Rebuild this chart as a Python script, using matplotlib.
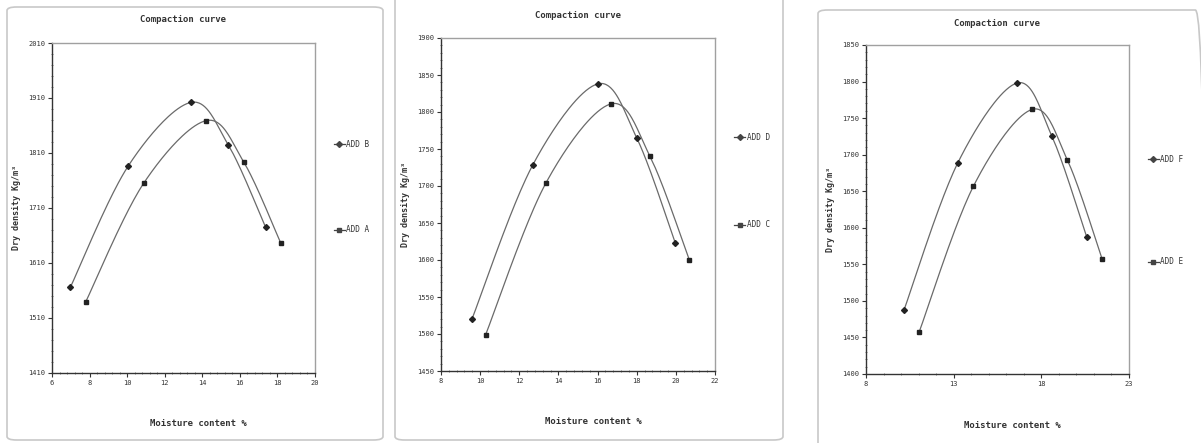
import numpy as np
import matplotlib
matplotlib.use('Agg')
import matplotlib.pyplot as plt
from matplotlib.patches import FancyBboxPatch
from matplotlib.ticker import FixedLocator, AutoMinorLocator

# Datos de las tres curvas de compactacion (humedad %, densidad seca kg/m3)
x_add_b = [6.98, 10.05, 13.39, 15.38, 17.37]
y_add_b = [1566, 1786, 1902, 1825, 1675]
x_add_a = [7.79, 10.88, 14.22, 16.20, 18.18]
y_add_a = [1539, 1755, 1869, 1794, 1646]

x_add_d = [9.58, 12.68, 16.01, 18.00, 19.97]
y_add_d = [1520, 1728, 1838, 1765, 1623]
x_add_c = [10.28, 13.36, 16.69, 18.68, 20.69]
y_add_c = [1499, 1704, 1811, 1740, 1600]

x_add_f = [10.16, 13.24, 16.61, 18.59, 20.58]
y_add_f = [1487, 1689, 1798, 1726, 1588]
x_add_e = [11.04, 14.13, 17.49, 19.48, 21.47]
y_add_e = [1458, 1657, 1762, 1693, 1557]

# Marcas de los ejes
xticks_1 = [6, 8, 10, 12, 14, 16, 18, 20]
yticks_1 = [1410, 1510, 1610, 1710, 1810, 1910, 2010]
xticks_2 = [8, 10, 12, 14, 16, 18, 20, 22]
yticks_2 = [1450, 1500, 1550, 1600, 1650, 1700, 1750, 1800, 1850, 1900]
xticks_3 = [8, 13, 18, 23]
yticks_3 = [1400, 1450, 1500, 1550, 1600, 1650, 1700, 1750, 1800, 1850]

W, H = 1201, 443
FONT = 'DejaVu Sans Mono'


def smooth(xs, ys, n=40):
    # curva suavizada tipo Excel (Bezier con tangentes Catmull-Rom)
    xs = np.asarray(xs, float)
    ys = np.asarray(ys, float)
    px, py = [], []
    for i in range(len(xs) - 1):
        i0 = max(i - 1, 0)
        i3 = min(i + 2, len(xs) - 1)
        c1x = xs[i] + (xs[i + 1] - xs[i0]) / 6
        c1y = ys[i] + (ys[i + 1] - ys[i0]) / 6
        c2x = xs[i + 1] - (xs[i3] - xs[i]) / 6
        c2y = ys[i + 1] - (ys[i3] - ys[i]) / 6
        t = np.linspace(0, 1, n)
        bx = (1-t)**3*xs[i] + 3*(1-t)**2*t*c1x + 3*(1-t)*t**2*c2x + t**3*xs[i+1]
        by = (1-t)**3*ys[i] + 3*(1-t)**2*t*c1y + 3*(1-t)*t**2*c2y + t**3*ys[i+1]
        px.extend(bx)
        py.extend(by)
    return px, py


def box(fig, x0, y0, x1, y1):
    p = FancyBboxPatch((x0 / W, 1 - y1 / H), (x1 - x0) / W, (y1 - y0) / H,
                       boxstyle='round,pad=0,rounding_size=0.008',
                       transform=fig.transFigure, facecolor='none',
                       edgecolor='#c8c8c8', linewidth=1.2)
    fig.patches.append(p)


def panel(fig, rect, series, xticks, yticks, leg_pos, leg_space, title_y, xlab_y):
    l, t, r, b = rect
    ax = fig.add_axes([l / W, 1 - b / H, (r - l) / W, (b - t) / H])
    for xs, ys, lab, mk in series:
        sx, sy = smooth(xs, ys)
        ax.plot(sx, sy, color='#6a6a6a', lw=0.9, zorder=2)
        ax.plot(xs, ys, ls='none', marker=mk, ms=3, color='#222222', zorder=3)
    ax.set_xlim(xticks[0], xticks[-1])
    ax.set_ylim(yticks[0], yticks[-1])
    ax.xaxis.set_major_locator(FixedLocator(xticks))
    ax.yaxis.set_major_locator(FixedLocator(yticks))
    ax.xaxis.set_minor_locator(AutoMinorLocator(5))
    ax.yaxis.set_minor_locator(AutoMinorLocator(5))
    ax.tick_params(which='major', direction='out', length=3, width=0.8,
                   labelsize=5, colors='#333333', pad=2)
    ax.tick_params(which='minor', direction='inout', length=2, width=0.5, colors='#555555')
    for lab in ax.get_xticklabels() + ax.get_yticklabels():
        lab.set_family(FONT)
    for s in ['top', 'right']:
        ax.spines[s].set_color('#a0a0a0')
        ax.spines[s].set_linewidth(1.0)
    for s in ['left', 'bottom']:
        ax.spines[s].set_color('#333333')
        ax.spines[s].set_linewidth(1.0)
    ax.set_ylabel('Dry density Kg/m³', family=FONT, fontsize=6, fontweight='bold',
                  color='#333333', labelpad=5)
    cx = (l + r) / 2
    fig.text(cx / W, 1 - title_y / H, 'Compaction curve', ha='center', va='center',
             family=FONT, fontsize=6.5, fontweight='bold', color='#333333')
    fig.text((cx + 15) / W, 1 - xlab_y / H, 'Moisture content %', ha='center', va='center',
             family=FONT, fontsize=6.5, fontweight='bold', color='#333333')
    handles = []
    for xs, ys, lab, mk in series:
        h, = ax.plot([], [], color='#444444', lw=0.9, marker=mk, ms=3, label=lab)
        handles.append(h)
    leg = ax.legend(handles=handles, loc='upper left', bbox_to_anchor=leg_pos,
                    frameon=False, handlelength=1.4, handletextpad=0.2,
                    labelspacing=leg_space, borderaxespad=0,
                    prop={'family': FONT, 'size': 5.5})
    for tx in leg.get_texts():
        tx.set_color('#333333')
    return ax


fig = plt.figure(figsize=(W / 100, H / 100), dpi=100)
fig.patch.set_facecolor('white')

box(fig, 7, 7, 383, 440)
box(fig, 395, -6, 783, 440)
box(fig, 818, 10, 1205, 447)

panel(fig, (52, 43, 315, 373),
      [(x_add_b, y_add_b, 'ADD B', 'D'), (x_add_a, y_add_a, 'ADD A', 's')],
      xticks_1, yticks_1, (1.06, 0.715), 10.0, 20, 424)

panel(fig, (441, 38, 715, 371),
      [(x_add_d, y_add_d, 'ADD D', 'D'), (x_add_c, y_add_c, 'ADD C', 's')],
      xticks_2, yticks_2, (1.06, 0.725), 10.3, 15, 422)

panel(fig, (866, 45, 1129, 374),
      [(x_add_f, y_add_f, 'ADD F', 'D'), (x_add_e, y_add_e, 'ADD E', 's')],
      xticks_3, yticks_3, (1.06, 0.675), 12.2, 23, 425)

fig.savefig('out.png', dpi=100)
